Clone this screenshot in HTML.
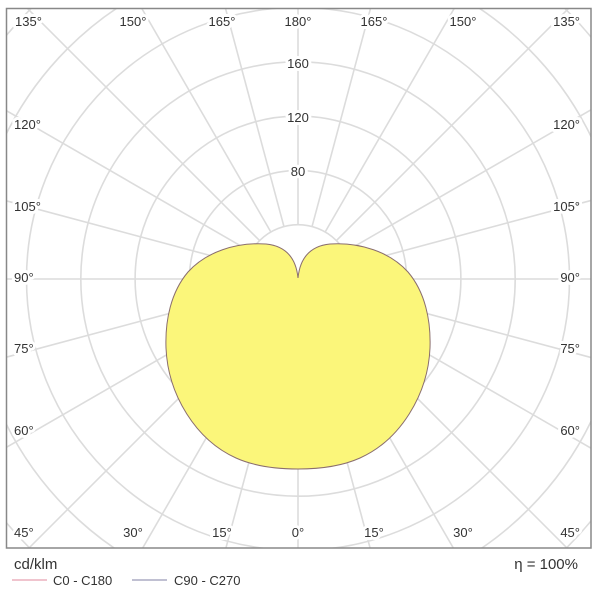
<!DOCTYPE html>
<html><head><meta charset="utf-8"><style>
html,body{margin:0;padding:0;background:#fff;overflow:hidden;width:600px;height:600px;}
svg{display:block;}
svg text{font-family:"Liberation Sans",sans-serif;fill:#333;}
.lb{paint-order:stroke;stroke:#fff;stroke-width:6px;stroke-linejoin:round;}
</style></head><body>
<svg width="600" height="600" viewBox="0 0 600 600" xmlns="http://www.w3.org/2000/svg">
<rect width="600" height="600" fill="#fff"/>
<defs><clipPath id="c"><rect x="6" y="8" width="585" height="540"/></clipPath></defs>
<g clip-path="url(#c)" stroke="#dcdcdc" stroke-width="1.6" fill="none">
<circle cx="298" cy="279" r="54.3"/><circle cx="298" cy="279" r="108.6"/><circle cx="298" cy="279" r="162.9"/><circle cx="298" cy="279" r="217.2"/><circle cx="298" cy="279" r="271.5"/><circle cx="298" cy="279" r="325.8"/><circle cx="298" cy="279" r="380"/>
<g transform="translate(298 279)">
<line x1="0" y1="54.3" x2="0" y2="600" transform="rotate(0)"/>
<line x1="0" y1="54.3" x2="0" y2="600" transform="rotate(15)"/>
<line x1="0" y1="54.3" x2="0" y2="600" transform="rotate(30)"/>
<line x1="0" y1="54.3" x2="0" y2="600" transform="rotate(45)"/>
<line x1="0" y1="54.3" x2="0" y2="600" transform="rotate(60)"/>
<line x1="0" y1="54.3" x2="0" y2="600" transform="rotate(75)"/>
<line x1="0" y1="54.3" x2="0" y2="600" transform="rotate(90)"/>
<line x1="0" y1="54.3" x2="0" y2="600" transform="rotate(105)"/>
<line x1="0" y1="54.3" x2="0" y2="600" transform="rotate(120)"/>
<line x1="0" y1="54.3" x2="0" y2="600" transform="rotate(135)"/>
<line x1="0" y1="54.3" x2="0" y2="600" transform="rotate(150)"/>
<line x1="0" y1="54.3" x2="0" y2="600" transform="rotate(165)"/>
<line x1="0" y1="54.3" x2="0" y2="600" transform="rotate(180)"/>
<line x1="0" y1="54.3" x2="0" y2="600" transform="rotate(195)"/>
<line x1="0" y1="54.3" x2="0" y2="600" transform="rotate(210)"/>
<line x1="0" y1="54.3" x2="0" y2="600" transform="rotate(225)"/>
<line x1="0" y1="54.3" x2="0" y2="600" transform="rotate(240)"/>
<line x1="0" y1="54.3" x2="0" y2="600" transform="rotate(255)"/>
<line x1="0" y1="54.3" x2="0" y2="600" transform="rotate(270)"/>
<line x1="0" y1="54.3" x2="0" y2="600" transform="rotate(285)"/>
<line x1="0" y1="54.3" x2="0" y2="600" transform="rotate(300)"/>
<line x1="0" y1="54.3" x2="0" y2="600" transform="rotate(315)"/>
<line x1="0" y1="54.3" x2="0" y2="600" transform="rotate(330)"/>
<line x1="0" y1="54.3" x2="0" y2="600" transform="rotate(345)"/>
</g>
</g>
<path d="M298,278 C300,258 310,246 330,244 C360,242 390,252 408,272 C425,292 431,320 430,348 C428,395 400,440 360,458 C340,467 318,469 298,469 C278,469 256,467 236,458 C196,440 168,395 166,348 C165,320 171,292 188,272 C206,252 236,242 266,244 C286,246 296,258 298,278 Z" fill="#fbf67a" stroke="#8a6e6e" stroke-width="1"/>
<rect x="6.5" y="8.5" width="584.5" height="539.5" fill="none" stroke="#888" stroke-width="1.5"/>
<g font-size="13">
<text class="lb" x="298" y="68" text-anchor="middle">160</text>
<text class="lb" x="298" y="122" text-anchor="middle">120</text>
<text class="lb" x="298" y="176" text-anchor="middle">80</text>
<text class="lb" x="15" y="26">135°</text>
<text class="lb" x="133" y="26" text-anchor="middle">150°</text>
<text class="lb" x="222" y="26" text-anchor="middle">165°</text>
<text class="lb" x="298" y="26" text-anchor="middle">180°</text>
<text class="lb" x="374" y="26" text-anchor="middle">165°</text>
<text class="lb" x="463" y="26" text-anchor="middle">150°</text>
<text class="lb" x="580" y="26" text-anchor="end">135°</text>
<text class="lb" x="14" y="129">120°</text><text class="lb" x="580" y="129" text-anchor="end">120°</text>
<text class="lb" x="14" y="211">105°</text><text class="lb" x="580" y="211" text-anchor="end">105°</text>
<text class="lb" x="14" y="282">90°</text><text class="lb" x="580" y="282" text-anchor="end">90°</text>
<text class="lb" x="14" y="353">75°</text><text class="lb" x="580" y="353" text-anchor="end">75°</text>
<text class="lb" x="14" y="435">60°</text><text class="lb" x="580" y="435" text-anchor="end">60°</text>
<text class="lb" x="14" y="537">45°</text><text class="lb" x="580" y="537" text-anchor="end">45°</text>
<text class="lb" x="133" y="537" text-anchor="middle">30°</text>
<text class="lb" x="222" y="537" text-anchor="middle">15°</text>
<text class="lb" x="298" y="537" text-anchor="middle">0°</text>
<text class="lb" x="374" y="537" text-anchor="middle">15°</text>
<text class="lb" x="463" y="537" text-anchor="middle">30°</text>
</g>
<text x="14" y="569" font-size="15">cd/klm</text>
<text x="578" y="569" font-size="15" text-anchor="end">η =  100%</text>
<line x1="12" y1="580" x2="47" y2="580" stroke="#e8a0b0" stroke-width="1.2"/>
<text x="53" y="585" font-size="13">C0 - C180</text>
<line x1="132" y1="580" x2="167" y2="580" stroke="#9a9ab8" stroke-width="1.2"/>
<text x="174" y="585" font-size="13">C90 - C270</text>
</svg>
</body></html>
